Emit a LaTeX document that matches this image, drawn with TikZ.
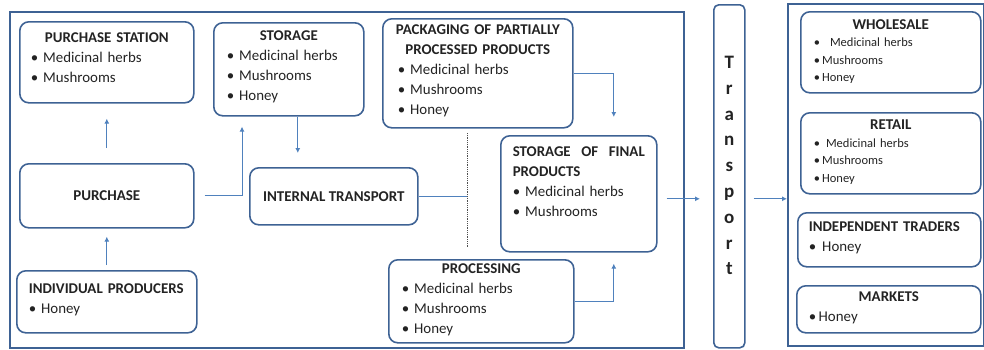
\documentclass[tikz,border=0pt]{standalone}
\usepackage{fontspec}
\setmainfont{Carlito}
\usetikzlibrary{arrows.meta}

\definecolor{boxline}{RGB}{62,98,148}
\definecolor{linkblue}{RGB}{79,129,189}
\definecolor{ink}{RGB}{35,35,35}

\newcommand{\boxtitle}[1]{\makebox[\linewidth]{\bfseries #1}\\}
\newcommand{\bigtitle}[1]{\makebox[\linewidth]{\fontsize{15}{20}\selectfont\bfseries #1}\\}

\tikzset{
    frame/.style = {draw = boxline, line width = 1.5pt, anchor = north west, inner sep = 0pt},
    box/.style = {frame, rounded corners = 9pt, line width = 1.6pt, text = ink,
        font = \fontsize{15}{20}\selectfont\bfseries},
    body/.style = {anchor = north, align = left, inner sep = 0pt, text = ink,
        font = \fontsize{14.9}{20}\selectfont},
    small/.style = {body, font = \fontsize{12.5}{17.5}\selectfont},
    link/.style = {draw = linkblue, line width = 1pt},
    flow/.style = {link, -{Latex[length = 5pt, width = 5pt]}},
}

\begin{document}
\begin{tikzpicture}[x = 1pt, y = -1pt]
    \useasboundingbox (0, 0) rectangle (984, 349);

    % outer frames
    \node [frame, minimum width = 674pt, minimum height = 336pt] (supply) at (9, 11) {};
    \node [frame, minimum width = 196pt, minimum height = 342pt] (outlets) at (787, 3) {};
    \node [box, rounded corners = 5pt, minimum width = 31pt, minimum height = 343pt] (trans) at (713, 4) {};
    \node [anchor = north, align = center, inner sep = 0pt, text = ink,
        font = \fontsize{19}{25.8}\selectfont\bfseries]
        at ([yshift = -52pt]trans.north) {T\\r\\a\\n\\s\\p\\o\\r\\t};

    % collection side
    \node [box, minimum width = 174pt, minimum height = 81pt] (station) at (19, 21) {};
    \node [body, text width = 152pt] at ([yshift = -12pt]station.north)
        {\boxtitle{PURCHASE STATION}• Medicinal herbs\\• Mushrooms};

    \node [box, minimum width = 174pt, minimum height = 64pt] (purchase) at (19, 163) {PURCHASE};

    \node [box, minimum width = 180pt, minimum height = 62pt] (producers) at (16, 270) {};
    \node [body, text width = 156pt] at ([yshift = -14pt]producers.north)
        {\textbf{INDIVIDUAL PRODUCERS}\\• Honey};

    \node [box, minimum width = 150pt, minimum height = 93pt] (storage) at (213, 22) {};
    \node [body, text width = 124pt] at ([yshift = -9pt]storage.north)
        {\boxtitle{STORAGE}• Medicinal herbs\\• Mushrooms\\• Honey};

    \node [box, minimum width = 168pt, minimum height = 57pt] (internal) at (249, 167) {INTERNAL TRANSPORT};

    % products side
    \node [box, minimum width = 190pt, minimum height = 109pt] (packaging) at (382, 18) {};
    \node [body, text width = 160pt] at ([yshift = -7pt]packaging.north)
        {\boxtitle{PACKAGING OF PARTIALLY}\boxtitle{PROCESSED PRODUCTS}• Medicinal herbs\\• Mushrooms\\• Honey};

    \node [box, minimum width = 156pt, minimum height = 116pt] (final) at (500, 135) {};
    \node [body, text width = 132pt] at ([yshift = -12pt]final.north)
        {\textbf{STORAGE}\hfill\textbf{OF}\hfill\textbf{FINAL}\\\textbf{PRODUCTS}\\• Medicinal herbs\\• Mushrooms};

    \node [box, minimum width = 185pt, minimum height = 83pt] (processing) at (388, 259) {};
    \node [body, text width = 159pt] at ([yshift = -5pt]processing.north)
        {\boxtitle{PROCESSING}• Medicinal herbs\\• Mushrooms\\• Honey};

    % sales side
    \node [box, minimum width = 180pt, minimum height = 81pt] (wholesale) at (800, 11) {};
    \node [small, text width = 154pt] at ([yshift = -8pt]wholesale.north)
        {\bigtitle{WHOLESALE}•\hspace{10pt}Medicinal herbs\\•\,Mushrooms\\•\,Honey};

    \node [box, minimum width = 180pt, minimum height = 81pt] (retail) at (800, 112) {};
    \node [small, text width = 154pt] at ([yshift = -8pt]retail.north)
        {\bigtitle{RETAIL}•\hspace{6pt}Medicinal herbs\\•\,Mushrooms\\•\,Honey};

    \node [box, minimum width = 183pt, minimum height = 54pt] (traders) at (797, 212) {};
    \node [body, text width = 161pt] at ([yshift = -10pt]traders.north)
        {\textbf{INDEPENDENT TRADERS}\\•\hspace{6pt}Honey};

    \node [box, minimum width = 184pt, minimum height = 47pt] (markets) at (796, 285) {};
    \node [body, text width = 160pt] at ([yshift = -7pt]markets.north)
        {\boxtitle{MARKETS}•\,Honey};

    % dotted split between the two product routes
    \coordinate (split top) at (467, 133);
    \coordinate (split bottom) at (467, 247);
    \draw [densely dotted, draw = ink!80, line width = 0.8pt] (split top) -- (split bottom);

    % flows
    \draw [flow, shorten <= 15pt, shorten >= 15pt] (purchase.north) -- (station.south);
    \draw [flow, shorten <= 5pt, shorten >= 8pt] (producers.north) -- (purchase.south);
    \draw [flow, shorten <= 10pt, shorten >= 10pt] (purchase.east) -| ([xshift = 29pt]storage.south west);
    \draw [flow, shorten >= 14pt] ([xshift = 9pt]storage.south) -- ([xshift = 9pt]storage.south |- internal.north);
    \draw [link] (internal.east) -- (internal.east -| split top);
    \draw [flow, shorten >= 18pt] (packaging.east) -| ([xshift = 35pt]final.north);
    \draw [flow, shorten >= 11pt] (processing.east) -| ([xshift = 35pt]final.south);
    \draw [flow, shorten <= 9pt, shorten >= 13pt] ([yshift = -5pt]final.east) -- ([yshift = -5pt]final.east -| trans.west);
    \draw [flow, shorten <= 8pt] ([yshift = -5pt]final.east -| trans.east) -- ([yshift = -5pt]final.east -| outlets.west);
\end{tikzpicture}
\end{document}
